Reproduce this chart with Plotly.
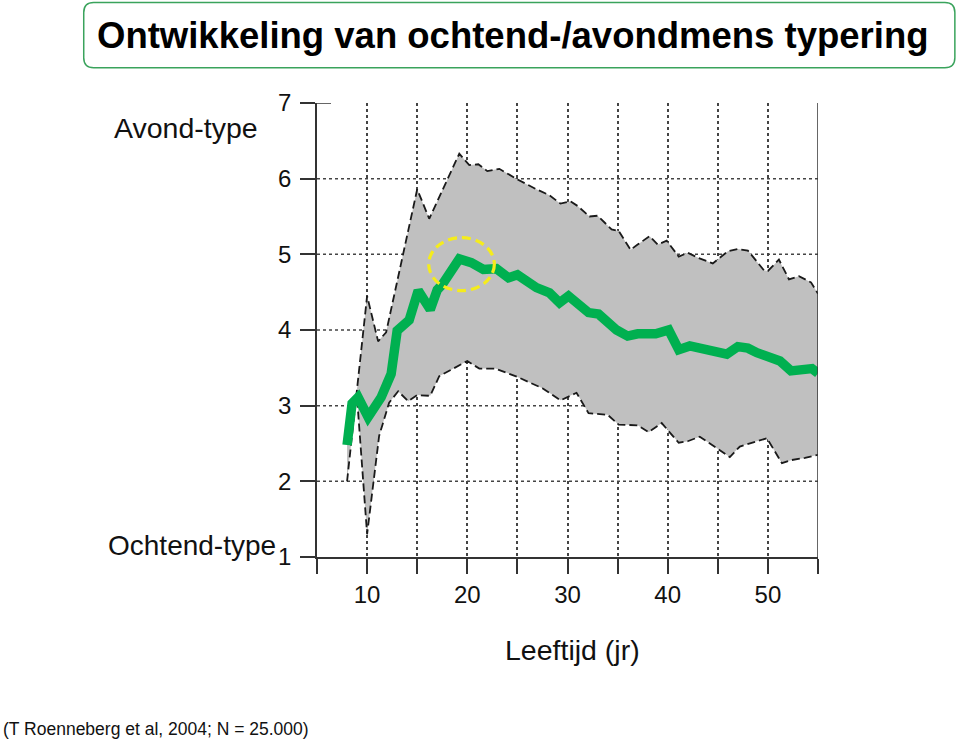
import plotly.graph_objects as go

# ---------------- data ----------------
age_mean = [8.0, 8.5, 9.1, 10.1, 11.4, 12.4, 13.0, 14.2, 15.1, 16.3, 17.0, 17.5, 19.2,
            20.4, 21.6, 22.9, 24.1, 25.0, 26.9, 28.2, 29.2, 30.1, 32.1, 33.1, 34.9,
            36.0, 37.0, 38.8, 40.1, 41.1, 42.2, 43.8, 44.9, 45.9, 47.0, 48.0, 48.9,
            50.2, 51.2, 52.3, 53.7, 54.4, 55.0]
mean_score = [2.48, 3.03, 3.11, 2.85, 3.11, 3.42, 3.99, 4.13, 4.52, 4.27, 4.53, 4.60, 4.94,
              4.89, 4.80, 4.81, 4.69, 4.73, 4.56, 4.49, 4.36, 4.45, 4.23, 4.21, 4.00,
              3.92, 3.95, 3.95, 4.00, 3.74, 3.79, 3.73, 3.70, 3.68, 3.78, 3.76, 3.70,
              3.65, 3.59, 3.46, 3.46, 3.49, 3.43]

age_upper = [8.0, 9.0, 10.0, 11.1, 11.9, 15.0, 16.2, 19.2, 20.2, 21.1, 22.0, 23.2, 25.0,
             26.9, 28.2, 29.3, 30.3, 31.0, 32.2, 33.0, 34.4, 35.1, 36.3, 37.0, 38.2,
             39.0, 39.9, 41.1, 42.0, 43.1, 44.5, 46.0, 47.0, 48.0, 49.6, 50.0, 51.1,
             52.1, 53.1, 54.3, 55.0]
upper_score = [2.0, 3.25, 4.45, 3.85, 3.97, 5.86, 5.47, 6.33, 6.18, 6.19, 6.10, 6.13, 5.99,
               5.86, 5.78, 5.67, 5.70, 5.64, 5.50, 5.51, 5.33, 5.31, 5.06, 5.13, 5.24,
               5.13, 5.18, 4.97, 5.02, 4.95, 4.88, 5.04, 5.07, 5.05, 4.79, 4.78, 4.93,
               4.67, 4.71, 4.63, 4.48]

age_lower = [8.0, 9.0, 10.0, 11.2, 12.2, 13.1, 14.1, 15.0, 16.3, 17.2, 20.0, 21.2, 22.8,
             25.0, 27.5, 29.3, 30.9, 32.1, 34.0, 35.1, 37.0, 38.1, 39.4, 41.1, 42.0,
             43.2, 44.9, 46.2, 47.2, 48.0, 49.9, 51.4, 52.3, 53.7, 55.0]
lower_score = [2.5, 3.1, 1.3, 2.6, 3.04, 3.19, 3.06, 3.14, 3.13, 3.39, 3.59, 3.49, 3.49,
               3.38, 3.23, 3.07, 3.17, 2.90, 2.88, 2.75, 2.74, 2.65, 2.77, 2.51, 2.53,
               2.59, 2.44, 2.32, 2.46, 2.49, 2.57, 2.24, 2.28, 2.31, 2.35]

x_ticks = [5, 10, 15, 20, 25, 30, 35, 40, 45, 50, 55]
x_ticklabels = ["", "10", "", "20", "", "30", "", "40", "", "50", ""]
y_ticks = [1, 2, 3, 4, 5, 6, 7]
y_ticklabels = ["1", "2", "3", "4", "5", "6", "7"]

title_text = "Ontwikkeling van ochtend-/avondmens typering"
label_top = "Avond-type"
label_bottom = "Ochtend-type"
x_title = "Leeftijd (jr)"
source_text = "(T Roenneberg et al, 2004; N = 25.000)"

# ---------------- layout geometry ----------------
W, H = 959, 742
L, R, T, B = 316.5, 141, 103.3, 185.3
PW, PH = W - L - R, H - T - B


def px(x):
    return (x - L) / PW


def py(y):
    return (H - B - y) / PH


FONT = "Liberation Sans, Arial, sans-serif"
fig = go.Figure()

# shaded band (polygon)
fig.add_trace(go.Scatter(
    x=age_upper + age_lower[::-1], y=upper_score + lower_score[::-1],
    fill="toself", fillcolor="#c0c0c0", line=dict(width=0), mode="lines",
    hoverinfo="skip", showlegend=False))
for xs, ys in ((age_upper, upper_score), (age_lower, lower_score)):
    fig.add_trace(go.Scatter(x=xs, y=ys, mode="lines",
                             line=dict(color="#1a1a1a", width=1.8, dash="8px,4px"),
                             showlegend=False))
fig.add_trace(go.Scatter(x=age_mean, y=mean_score, mode="lines",
                         line=dict(color="#00b050", width=9.5),
                         showlegend=False))

shapes = []
# horizontal dotted grid lines
for yv in y_ticks[1:-1]:
    shapes.append(dict(type="line", xref="x", yref="y", x0=5, x1=55, y0=yv, y1=yv,
                       line=dict(color="#444", width=1.5, dash="dot"), layer="below"))
# right frame line
shapes.append(dict(type="line", xref="x", yref="y", x0=55, x1=55, y0=1, y1=7,
                   line=dict(color="#333", width=1.5)))
# small top cap of y axis
shapes.append(dict(type="line", xref="x", yref="y", x0=5, x1=6.4, y0=7, y1=7,
                   line=dict(color="#333", width=1.5)))
# yellow highlight ellipse
shapes.append(dict(type="circle", xref="x", yref="y", x0=16.15, x1=22.7, y0=4.52, y1=5.22,
                   line=dict(color="#f5ec1c", width=3.2, dash="9px,5px"), layer="above"))
# rounded title box
x0, x1, y0, y1 = 83, 955, 3, 68
r = 10
path = (f"M {px(x0 + r)} {py(y0)} L {px(x1 - r)} {py(y0)} "
        f"Q {px(x1)} {py(y0)} {px(x1)} {py(y0 + r)} L {px(x1)} {py(y1 - r)} "
        f"Q {px(x1)} {py(y1)} {px(x1 - r)} {py(y1)} L {px(x0 + r)} {py(y1)} "
        f"Q {px(x0)} {py(y1)} {px(x0)} {py(y1 - r)} L {px(x0)} {py(y0 + r)} "
        f"Q {px(x0)} {py(y0)} {px(x0 + r)} {py(y0)} Z")
shapes.append(dict(type="path", xref="paper", yref="paper", path=path,
                   line=dict(color="#3aa35c", width=1.5)))

annotations = [
    dict(text=f"<b>{title_text}</b>", x=px(513), y=py(36), xref="paper", yref="paper",
         showarrow=False, xanchor="center", yanchor="middle",
         font=dict(family=FONT, size=36.5, color="black")),
    dict(text=label_top, x=px(111), y=py(128), xref="paper", yref="paper",
         showarrow=False, xanchor="left", yanchor="middle",
         font=dict(family=FONT, size=28.5, color="#111")),
    dict(text=label_bottom, x=px(105), y=py(545), xref="paper", yref="paper",
         showarrow=False, xanchor="left", yanchor="middle",
         font=dict(family=FONT, size=28, color="#111")),
    dict(text=x_title, x=px(572), y=py(650), xref="paper", yref="paper",
         showarrow=False, xanchor="center", yanchor="middle",
         font=dict(family=FONT, size=28.5, color="#111")),
    dict(text=source_text, x=px(0), y=py(728), xref="paper", yref="paper",
         showarrow=False, xanchor="left", yanchor="middle",
         font=dict(family=FONT, size=17.5, color="#111")),
]

fig.update_layout(
    width=W, height=H, margin=dict(l=L, r=R, t=T, b=B, pad=0),
    paper_bgcolor="white", plot_bgcolor="white", showlegend=False,
    shapes=shapes, annotations=annotations,
    xaxis=dict(range=[5, 55], tickmode="array", tickvals=x_ticks, ticktext=x_ticklabels,
               ticks="outside", ticklen=15, tickwidth=1.5, tickcolor="#333",
               showline=True, linecolor="#333", linewidth=1.5,
               showgrid=True, gridcolor="#444", gridwidth=1.5, griddash="dot",
               zeroline=False, tickfont=dict(family=FONT, size=24, color="#111")),
    yaxis=dict(range=[1, 7], tickmode="array", tickvals=y_ticks, ticktext=y_ticklabels,
               ticks="outside", ticklen=15, tickwidth=1.5, tickcolor="#333",
               showline=True, linecolor="#333", linewidth=1.5, showgrid=False,
               zeroline=False, ticklabelstandoff=4,
               tickfont=dict(family=FONT, size=24, color="#111")),
)

fig.write_html("out.html")
